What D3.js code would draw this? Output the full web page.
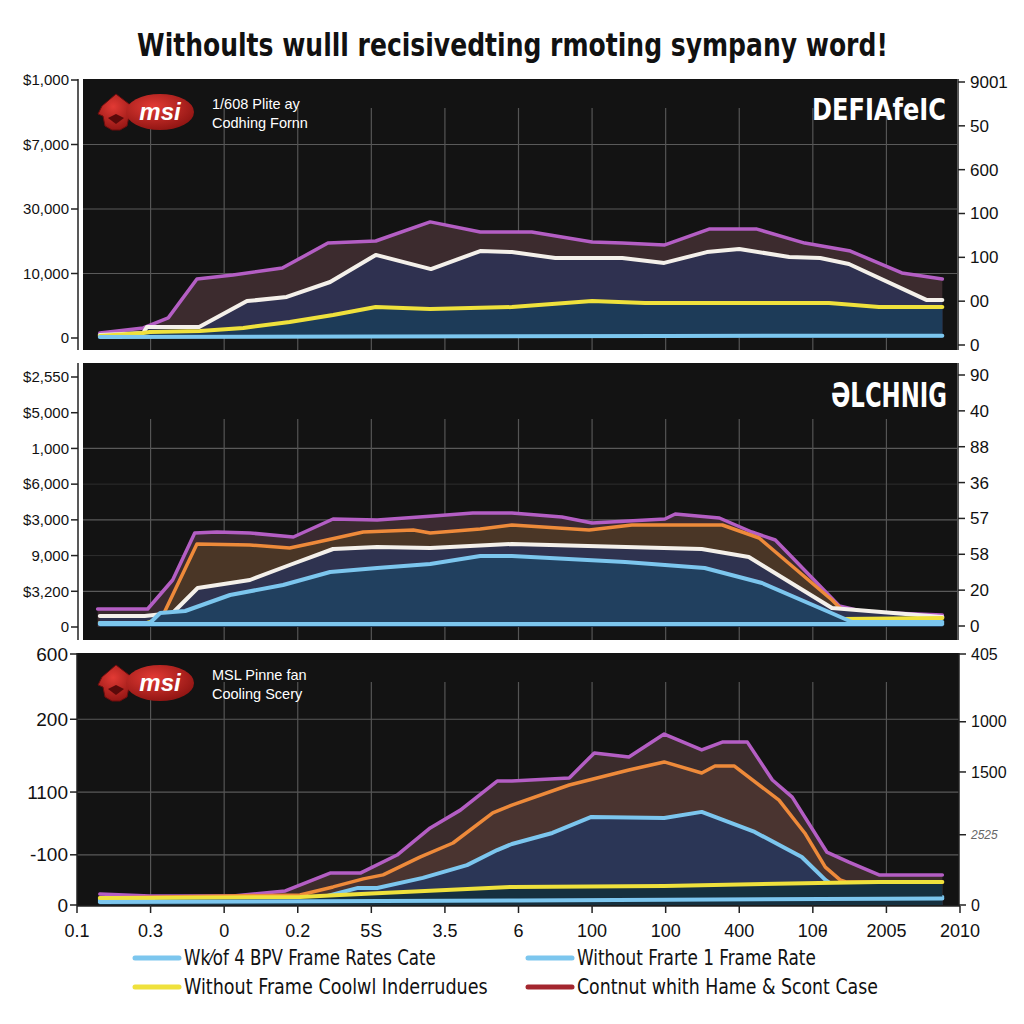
<!DOCTYPE html>
<html><head><meta charset="utf-8">
<script src="https://cdn.jsdelivr.net/npm/d3@7"></script>
<style>body{margin:0;background:#fff}svg{display:block}</style>
</head><body>
<svg id="chart" width="1024" height="1024"></svg>
<script>
// ---------------- DATA ----------------
const title = "Withoults wulll recisivedting rmoting sympany word!";
const xLabels = ["0.1","0.3","0","0.2","5S","3.5","6","100","100","400","10θ","2005","2010"];

// Panel 1
const p1LeftLabels  = ["0","10,000","30,000","$7,000","$1,000"];
const p1RightLabels = ["0","00","100","100","600","50","9001"];
const p1Magenta = [[0.31,1.9],[0.90,3.9],[1.24,7.8],[1.63,22.9],[2.12,24.4],[2.79,27.1],[3.41,36.8],[4.06,37.6],[4.80,45.0],[5.48,41.1],[6.18,41.1],[7.00,37.2],[7.41,36.8],[7.98,36.0],[8.59,42.2],[9.24,42.2],[9.89,36.8],[10.51,33.7],[11.21,25.2],[11.76,22.9]];
const p1White   = [[0.31,1.2],[0.90,1.9],[0.95,4.3],[1.66,4.3],[2.31,14.3],[2.85,15.9],[3.44,21.7],[4.06,32.2],[4.81,26.7],[5.48,33.7],[5.91,33.3],[6.50,31.0],[7.41,31.0],[7.98,29.1],[8.56,33.3],[9.00,34.5],[9.68,31.4],[10.10,31.0],[10.49,28.7],[11.55,14.7],[11.76,14.7]];
const p1Yellow  = [[0.31,0.8],[0.90,1.9],[0.99,2.3],[1.67,2.7],[2.26,3.9],[2.89,6.2],[3.48,8.9],[4.06,12.0],[4.80,11.2],[5.91,12.0],[7.00,14.3],[7.72,13.6],[10.22,13.6],[10.90,12.0],[11.76,12.0]];
const p1Blue    = [[0.31,0.4],[4.0,0.6],[8.0,0.8],[11.76,0.9]];

// Panel 2
const p2LeftLabels  = ["0","$3,200","9,000","$3,000","$6,000","1,000","$5,000","$2,550"];
const p2RightLabels = ["0","20","58","57","36","88","40","90"];
const p2Magenta = [[0.28,7.2],[0.96,7.2],[1.30,18.8],[1.60,37.6],[1.90,38.0],[2.35,37.6],[2.94,36.0],[3.48,43.2],[4.08,42.8],[4.84,44.4],[5.38,45.6],[5.91,45.6],[6.59,44.0],[7.00,41.6],[7.99,43.2],[8.13,45.2],[8.73,43.6],[9.17,38.0],[9.49,34.8],[10.36,8.4],[10.71,6.0],[11.76,4.8]];
const p2Orange  = [[0.31,1.6],[0.95,1.6],[1.17,4.8],[1.63,33.2],[2.35,32.8],[2.89,31.6],[3.21,33.6],[3.89,38.0],[4.57,38.8],[4.80,37.6],[5.48,39.2],[5.91,40.8],[6.96,38.8],[7.54,40.8],[8.77,40.8],[9.27,35.6],[10.26,10.8],[10.44,5.6],[11.76,4.0]];
const p2White   = [[0.31,4.4],[0.92,4.4],[1.30,5.6],[1.64,15.6],[2.35,18.8],[2.89,24.8],[3.48,31.2],[4.08,32.0],[4.80,31.6],[5.91,33.2],[8.49,31.2],[9.13,28.0],[10.26,7.6],[11.76,4.0]];
const p2Yellow  = [[0.31,1.6],[0.95,1.6],[1.30,4.8],[1.47,5.6],[1.67,2.8],[10.4,3.2],[11.76,3.6]];
const p2Blue    = [[0.31,1.6],[0.99,1.6],[1.13,5.6],[1.47,6.4],[2.08,12.8],[2.80,16.8],[3.44,22.0],[4.08,23.6],[4.80,25.2],[5.48,28.4],[5.91,28.4],[7.45,26.0],[8.53,23.6],[9.31,17.6],[10.22,6.0],[10.53,2.0],[11.76,2.0]];
const p2Base    = [[0.31,1.2],[11.76,1.2]];

// Panel 3
const p3LeftLabels  = ["0","-100","1100","200","600"];
const p3LeftValues  = [0,20,45,74,100];
const p3RightLabels = ["0","2525","1500","1000","405"];
const p3RightValues = [0,28,53,73,100];
const p3Magenta = [[0.31,4.4],[0.99,3.6],[2.12,3.6],[2.83,5.6],[3.44,12.7],[3.85,12.7],[4.35,19.9],[4.80,30.7],[5.21,37.8],[5.71,49.4],[5.91,49.4],[6.69,50.6],[7.03,60.6],[7.50,59.0],[7.98,68.1],[8.49,61.8],[8.77,64.9],[9.11,64.9],[9.45,49.8],[9.72,43.0],[10.19,21.1],[10.49,17.1],[10.90,12.0],[11.76,12.0]];
const p3Orange  = [[0.31,2.8],[3.03,4.0],[3.48,7.2],[3.89,10.4],[4.16,12.0],[4.66,19.1],[5.11,24.7],[5.65,36.7],[5.91,39.8],[6.69,47.8],[7.50,53.8],[7.98,57.0],[8.49,52.6],[8.67,55.4],[8.93,55.4],[9.54,41.8],[9.89,28.7],[10.17,15.1],[10.37,10.0],[10.45,9.2],[11.76,9.2]];
const p3Blue    = [[0.31,2.0],[3.30,2.8],[3.82,6.8],[4.08,6.8],[4.70,10.8],[5.30,15.9],[5.71,21.9],[5.91,24.3],[6.46,28.7],[6.99,35.1],[7.98,34.7],[8.49,37.1],[9.21,29.1],[9.85,19.1],[10.17,10.0],[10.44,4.4],[10.71,3.2],[11.76,3.2]];
const p3Yellow  = [[0.31,2.8],[0.99,2.8],[3.03,3.2],[3.57,4.0],[5.91,7.2],[7.98,7.6],[10.08,8.8],[10.90,9.2],[11.76,9.2]];
const p3Base    = [[0.31,1.2],[6.0,1.8],[11.76,2.6]];

const legendItems = ["Wk⁄of 4 BPV Frame Rates Cate","Without Frarte 1 Frame Rate","Without Frame Coolwl Inderrudues","Contnut whith Hame & Scont Case"];

// ---------------- DRAW ----------------
const svg = d3.select("#chart");
const FONT = "'Liberation Sans', Arial, sans-serif";
const NARROW = "'Liberation Sans Narrow', 'DejaVu Sans Condensed', 'Liberation Sans', sans-serif";
const C = {mag:"#b45ec4", white:"#f4f0ea", yellow:"#efe13c", blue:"#7cc6ee", orange:"#ee8a3a"};

// fit text to a width by horizontal scaling (keeps bbox true)
function fitText(sel, x0, y0, width){
  const w = sel.node().getComputedTextLength();
  const s = width / w;
  sel.attr("x",0).attr("y",0).attr("transform",`translate(${x0},${y0}) scale(${s},1)`);
}

const tt = svg.append("text").attr("font-family",NARROW).attr("font-weight","bold").attr("font-size",32)
  .attr("fill","#111").text(title);
fitText(tt,137,56,751);

const x = d3.scaleLinear().domain([0,12]).range([77,960]);

function drawPanel(cfg){
  const g = svg.append("g");
  const y = d3.scaleLinear().domain([0,100]).range([cfg.base, cfg.topV]);
  g.append("rect").attr("x",cfg.bx0).attr("y",cfg.by0).attr("width",cfg.bx1-cfg.bx0).attr("height",cfg.by1-cfg.by0).attr("fill","#131313");
  cfg.hgrid.forEach(v=>{
    g.append("line").attr("x1",cfg.bx0).attr("x2",cfg.bx1).attr("y1",y(v)).attr("y2",y(v))
      .attr("stroke","#5a5a5a").attr("stroke-width",1.2);
  });
  (cfg.hgridFaint||[]).forEach(v=>{
    g.append("line").attr("x1",cfg.bx0).attr("x2",cfg.bx1).attr("y1",y(v)).attr("y2",y(v))
      .attr("stroke","#2e2e2e").attr("stroke-width",1);
  });
  d3.range(1,12).forEach(i=>{
    g.append("line").attr("x1",x(i)).attr("x2",x(i)).attr("y1",cfg.vgTop).attr("y2",cfg.by1)
      .attr("stroke","#555").attr("stroke-width",1.2);
  });
  const area = d3.area().x(d=>x(d[0])).y0(y(0)).y1(d=>y(d[1]));
  const line = d3.line().x(d=>x(d[0])).y(d=>y(d[1]));
  cfg.series.forEach(s=>{
    if(s.fill) g.append("path").datum(s.data).attr("d",area).attr("fill",s.fill);
    g.append("path").datum(s.data).attr("d",line).attr("fill","none").attr("stroke",s.color)
      .attr("stroke-width",s.w||3.5).attr("stroke-linejoin","round").attr("stroke-linecap","round");
  });
  const la = cfg.leftAxis;
  g.append("line").attr("x1",la.x).attr("x2",la.x).attr("y1",cfg.by0).attr("y2",cfg.by1).attr("stroke","#222").attr("stroke-width",1.5);
  la.values.forEach((v,i)=>{
    const yy = y(v);
    g.append("line").attr("x1",la.x-7).attr("x2",la.x).attr("y1",yy).attr("y2",yy).attr("stroke","#222").attr("stroke-width",1.5);
    g.append("text").attr("x",la.x-9).attr("y",yy).attr("dy","0.35em").attr("text-anchor","end")
      .attr("font-family",FONT).attr("font-size",la.size).attr("fill","#111").text(la.labels[i]);
  });
  const ra = cfg.rightAxis;
  const yr = d3.scaleLinear().domain(ra.domain).range(ra.range);
  g.append("line").attr("x1",ra.x).attr("x2",ra.x).attr("y1",cfg.by0).attr("y2",cfg.by1).attr("stroke","#222").attr("stroke-width",1.5);
  ra.values.forEach((v,i)=>{
    const yy = yr(v);
    g.append("line").attr("x1",ra.x).attr("x2",ra.x+7).attr("y1",yy).attr("y2",yy).attr("stroke","#222").attr("stroke-width",1.5);
    const t = g.append("text").attr("x",ra.x+12).attr("y",yy).attr("dy","0.35em")
      .attr("font-family",FONT).attr("font-size",ra.size).attr("fill","#111").text(ra.labels[i]);
    if(ra.faint && ra.faint.includes(i)) t.attr("font-size",12).attr("font-style","italic").attr("fill","#666");
  });
  return {g,y};
}

function logo(cx, cy, line1, line2){
  const g = svg.append("g").attr("transform",`translate(${cx},${cy})`);
  const defs = svg.append("defs");
  const id = "lg"+cx+cy;
  const gr = defs.append("radialGradient").attr("id",id).attr("cx","40%").attr("cy","35%").attr("r","70%");
  gr.append("stop").attr("offset","0%").attr("stop-color","#e23a34");
  gr.append("stop").attr("offset","100%").attr("stop-color","#8e1412");
  g.append("path").attr("d","M-58,-6 L-44,-18 L-31,-8 L-24,-6 L-26,2 L-31,4 L-33,14 L-40,18 L-48,18 L-55,14 L-57,4 L-62,2 Z")
    .attr("fill",`url(#${id})`).attr("stroke","#6e0d0d").attr("stroke-width",1);
  g.append("path").attr("d","M-52,6 L-44,12 L-36,6 L-44,2 Z").attr("fill","#5a0a0a");
  g.append("ellipse").attr("cx",0).attr("cy",0).attr("rx",34).attr("ry",18).attr("fill",`url(#${id})`);
  g.append("text").attr("x",0).attr("y",8).attr("text-anchor","middle").attr("font-family",FONT)
    .attr("font-style","italic").attr("font-weight","bold").attr("font-size",24).attr("fill","#fff").text("msi");
  g.append("text").attr("x",52).attr("y",-3).attr("font-family",FONT).attr("font-size",14.5).attr("fill","#fff").text(line1);
  g.append("text").attr("x",52).attr("y",16).attr("font-family",FONT).attr("font-size",14.5).attr("fill","#fff").text(line2);
}

// Panel 1
drawPanel({
  bx0:83,bx1:957,by0:79,by1:350,base:338,topV:80,vgTop:108,
  hgrid:[25,50,75],
  leftAxis:{x:78,values:[0,25,50,75,100],labels:p1LeftLabels,size:15},
  rightAxis:{x:958,domain:[0,6],range:[345,82],values:[0,1,2,3,4,5,6],labels:p1RightLabels,size:17},
  series:[
    {data:p1Magenta,color:C.mag,fill:"#3c2b2e"},
    {data:p1White,color:C.white,fill:"#2f3150",w:4},
    {data:p1Yellow,color:C.yellow,fill:"#1d3b58",w:4},
    {data:p1Blue,color:C.blue,w:4}
  ]
});
// Panel 2
const k7 = d3.range(8).map(k=>k*100/7);
drawPanel({
  bx0:83,bx1:957,by0:363,by1:640,base:627,topV:377,vgTop:419,
  hgrid:[k7[1],k7[3],k7[5]], hgridFaint:[k7[2],k7[4]],
  leftAxis:{x:78,values:k7,labels:p2LeftLabels,size:15},
  rightAxis:{x:958,domain:[0,7],range:[626,375],values:d3.range(8),labels:p2RightLabels,size:17},
  series:[
    {data:p2Magenta,color:C.mag,fill:"#3a2a30"},
    {data:p2Orange,color:C.orange,fill:"#4a3626"},
    {data:p2White,color:C.white,fill:"#2f3350",w:4},
    {data:p2Yellow,color:C.yellow,w:4},
    {data:p2Blue,color:C.blue,fill:"#21405f",w:4},
    {data:p2Base,color:C.blue,w:4}
  ]
});
// Panel 3
drawPanel({
  bx0:77,bx1:959,by0:653,by1:906,base:905,topV:654,vgTop:682,
  hgrid:[20,45,74],
  leftAxis:{x:77,values:p3LeftValues,labels:p3LeftLabels,size:19},
  rightAxis:{x:959,domain:[0,100],range:[905,654],values:p3RightValues,labels:p3RightLabels,size:16,faint:[1]},
  series:[
    {data:p3Magenta,color:C.mag,fill:"#3b2c2c"},
    {data:p3Orange,color:C.orange,fill:"#4a3430"},
    {data:p3Blue,color:C.blue,fill:"#2b3656",w:4},
    {data:p3Yellow,color:C.yellow,fill:"#16303f",w:4},
    {data:p3Base,color:C.blue,w:4}
  ]
});

// x axis (bottom of panel 3)
svg.append("line").attr("x1",77).attr("x2",960).attr("y1",906).attr("y2",906).attr("stroke","#222").attr("stroke-width",1.5);
xLabels.forEach((l,i)=>{
  svg.append("line").attr("x1",x(i)).attr("x2",x(i)).attr("y1",906).attr("y2",913).attr("stroke","#222").attr("stroke-width",1.5);
  svg.append("text").attr("x",x(i)).attr("y",937).attr("text-anchor","middle").attr("font-family",FONT)
    .attr("font-size",18).attr("fill","#111").text(l);
});

// logos and labels
logo(160,112,"1/608 Plite ay","Codhing Fornn");
logo(160,683,"MSL Pinne fan","Cooling Scery");
const t1 = svg.append("text").attr("font-family","'DejaVu Sans Condensed', sans-serif").attr("font-weight","bold")
  .attr("font-size",31).attr("fill","#fff").text("DEFIAfeIC");
fitText(t1,812,120,134);
const t2 = svg.append("text").attr("font-family","'DejaVu Sans Condensed', sans-serif").attr("font-weight","bold")
  .attr("font-size",33).attr("fill","#fff").text("ƏLCHNIG");
fitText(t2,831,407,116);

// legend
const legendColors = ["#7cc6ee","#7cc6ee","#efe13c","#a3262e"];
const legendPos = [[135,958,436],[528,958,816],[135,987,488],[528,987,878]];
legendItems.forEach((t,i)=>{
  const [lx,ly,ex] = legendPos[i];
  svg.append("line").attr("x1",lx).attr("x2",lx+44).attr("y1",ly).attr("y2",ly).attr("stroke",legendColors[i]).attr("stroke-width",5).attr("stroke-linecap","round");
  const lt = svg.append("text").attr("font-family",NARROW).attr("font-size",21).attr("fill","#111").text(t);
  fitText(lt,lx+49,ly+7,ex-(lx+49));
});
</script>
</body></html>
